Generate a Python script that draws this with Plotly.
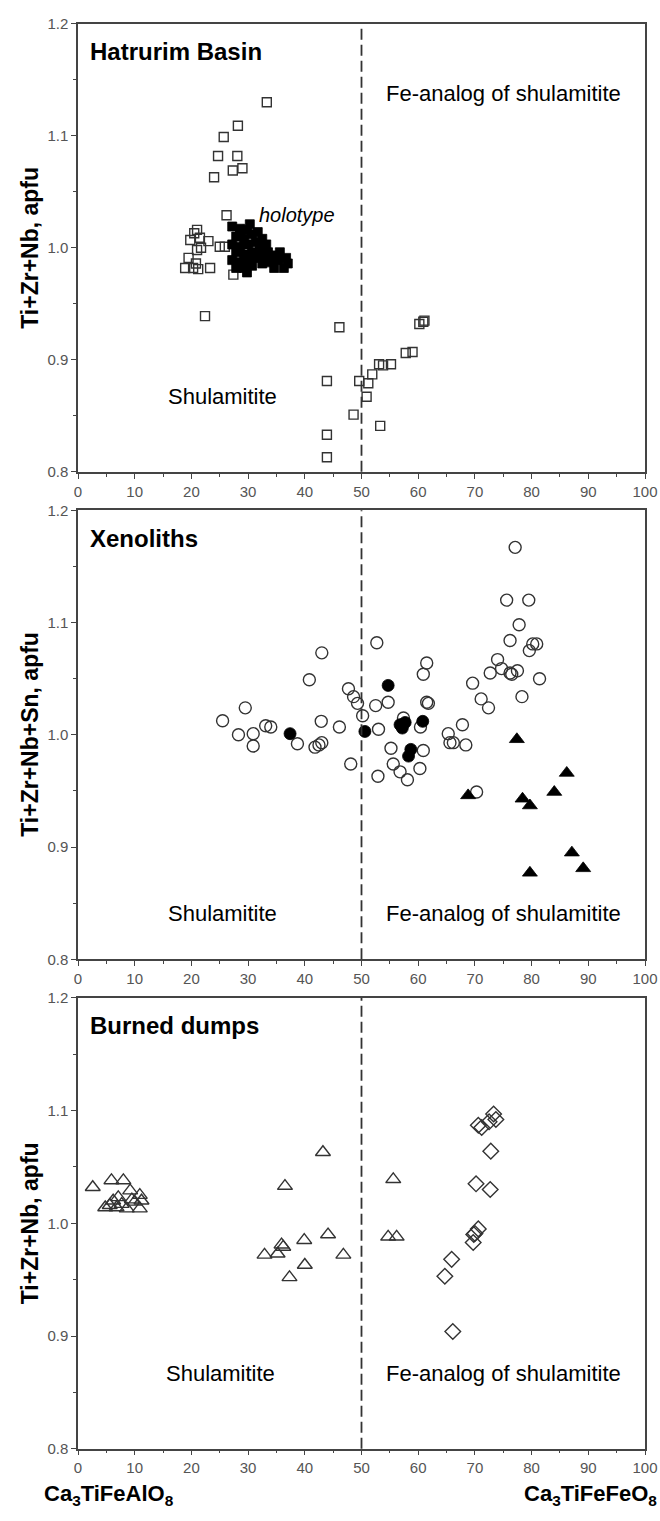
import plotly.graph_objects as go

# ---------------- data ----------------
# Panel 1: Hatrurim Basin
hb_open_x = [33.3, 28.2, 25.7, 24.7, 28.1, 29.0, 27.3, 24.0, 26.2,
             21.0, 19.8, 21.5, 21.7, 23.0, 20.5, 19.5, 18.9, 20.8, 21.2, 23.3, 20.3, 21.0,
             25.0, 25.9, 27.4, 22.4,
             43.9, 43.9, 43.9, 46.1, 49.6, 51.2, 50.9, 48.6, 53.3, 51.9, 53.1, 53.8, 55.2,
             57.8, 59.0, 60.2, 60.9, 61.1]
hb_open_y = [1.130, 1.109, 1.099, 1.082, 1.082, 1.071, 1.069, 1.063, 1.029,
             1.016, 1.007, 1.009, 1.000, 1.006, 1.013, 0.991, 0.982, 0.986, 0.981, 0.982, 0.982, 0.998,
             1.001, 1.001, 0.976, 0.939,
             0.881, 0.833, 0.813, 0.929, 0.881, 0.879, 0.867, 0.851, 0.841, 0.887, 0.896, 0.895, 0.896,
             0.906, 0.907, 0.932, 0.934, 0.935]
hb_holo_x = [27.2, 28.6, 29.8, 27.9, 29.3, 30.7, 31.7, 27.2, 28.6, 30.0, 31.4, 32.5, 33.2,
             27.9, 29.3, 30.7, 32.1, 33.5, 27.2, 28.6, 30.0, 31.4, 32.8, 34.2, 27.9, 29.3,
             30.7, 32.5, 33.9, 35.3, 35.6, 36.7, 37.0, 36.3, 34.9, 28.6, 30.3, 32.1, 29.8, 34.6]
hb_holo_y = [1.019, 1.017, 1.016, 1.010, 1.008, 1.012, 1.014, 1.003, 1.001, 1.003, 1.005, 1.008, 1.003,
             0.996, 0.994, 0.996, 0.998, 0.996, 0.989, 0.987, 0.989, 0.991, 0.991, 0.993, 0.982, 0.982,
             0.984, 0.986, 0.987, 0.989, 0.996, 0.991, 0.986, 0.982, 0.993, 1.014, 1.021, 1.001, 0.978, 0.982]

# Panel 2: Xenoliths
xe_open_x = [25.5, 29.5, 28.3, 30.9, 30.9, 33.1, 34.0, 38.7, 40.8, 43.0, 42.9, 42.5, 41.8, 43.0,
             46.1, 47.7, 48.6, 49.3, 50.2, 48.1, 52.5, 53.0, 54.7, 52.9, 57.4, 60.4, 55.2, 55.6,
             56.8, 58.1, 60.3, 60.9, 60.9, 61.5, 61.5, 52.7, 61.8, 65.3, 65.6, 66.2, 67.8, 68.4,
             69.6, 70.3, 71.1, 72.4, 72.7, 74.0, 74.7, 76.2, 76.5, 77.5, 76.2, 75.6, 79.5, 77.8,
             79.6, 80.2, 80.9, 78.3, 81.4, 77.1]
xe_open_y = [1.0125, 1.024, 1.000, 1.001, 0.990, 1.008, 1.007, 0.992, 1.049, 1.073, 1.012, 0.991, 0.989, 0.993,
             1.007, 1.041, 1.034, 1.028, 1.017, 0.974, 1.026, 1.005, 1.029, 0.963, 1.015, 1.007, 0.988, 0.974,
             0.967, 0.960, 0.970, 0.986, 1.054, 1.064, 1.029, 1.082, 1.028, 1.001, 0.993, 0.993, 1.009, 0.991,
             1.046, 0.949, 1.032, 1.024, 1.055, 1.067, 1.059, 1.055, 1.054, 1.057, 1.084, 1.120, 1.120, 1.098,
             1.075, 1.081, 1.081, 1.034, 1.050, 1.167]
xe_fill_x = [37.4, 50.6, 54.7, 56.8, 57.7, 57.2, 60.8, 58.7, 58.3]
xe_fill_y = [1.001, 1.003, 1.044, 1.009, 1.011, 1.006, 1.012, 0.987, 0.981]
xe_tri_x = [68.8, 77.4, 86.2, 84.0, 78.4, 79.7, 87.1, 89.1, 79.7]
xe_tri_y = [0.946, 0.996, 0.966, 0.949, 0.943, 0.937, 0.895, 0.881, 0.877]

# Panel 3: Burned dumps
bd_tri_x = [2.6, 5.9, 8.0, 4.8, 6.2, 7.1, 7.7, 9.2, 9.5, 10.9, 11.2, 8.6, 10.9, 6.8, 10.0, 5.6,
            36.5, 43.2, 32.9, 35.2, 35.9, 36.2, 37.3, 39.9, 40.0, 44.1, 46.8, 55.6, 54.7, 56.2]
bd_tri_y = [1.032, 1.038, 1.038, 1.014, 1.020, 1.023, 1.017, 1.029, 1.021, 1.025, 1.020, 1.013, 1.013, 1.014, 1.019, 1.016,
            1.033, 1.063, 0.972, 0.973, 0.981, 0.979, 0.952, 0.985, 0.963, 0.990, 0.972, 1.039, 0.988, 0.988]
bd_dia_x = [73.3, 73.7, 72.5, 70.6, 71.2, 72.8, 70.2, 72.7, 70.6, 70.0, 69.7, 69.8, 65.9, 64.7, 66.1]
bd_dia_y = [1.097, 1.092, 1.090, 1.087, 1.085, 1.064, 1.035, 1.030, 0.995, 0.991, 0.983, 0.990, 0.968, 0.953, 0.904]

x_ticks = [0, 10, 20, 30, 40, 50, 60, 70, 80, 90, 100]
y_ticks = [0.8, 0.9, 1.0, 1.1, 1.2]
panel_titles = ["Hatrurim Basin", "Xenoliths", "Burned dumps"]
y_titles = ["Ti+Zr+Nb, apfu", "Ti+Zr+Nb+Sn, apfu", "Ti+Zr+Nb, apfu"]

# ---------------- figure ----------------
W, H = 660, 1521
L, R = 78, 15
PW = W - L - R
FONT = "Arial, 'Liberation Sans', sans-serif"
INK = "#333333"

fig = go.Figure()

def open_marker(symbol, size):
    return dict(symbol=symbol, size=size, color="rgba(0,0,0,0)",
                line=dict(color=INK, width=1.4))

def fill_marker(symbol, size):
    return dict(symbol=symbol, size=size, color="#000000",
                line=dict(color="#000000", width=0.8))

fig.add_trace(go.Scatter(x=hb_open_x, y=hb_open_y, mode="markers", xaxis="x", yaxis="y",
                         marker=open_marker("square", 9)))
fig.add_trace(go.Scatter(x=hb_holo_x, y=hb_holo_y, mode="markers", xaxis="x", yaxis="y",
                         marker=fill_marker("square", 9)))
fig.add_trace(go.Scatter(x=xe_open_x, y=xe_open_y, mode="markers", xaxis="x2", yaxis="y2",
                         marker=open_marker("circle", 12)))
fig.add_trace(go.Scatter(x=xe_fill_x, y=xe_fill_y, mode="markers", xaxis="x2", yaxis="y2",
                         marker=fill_marker("circle", 12)))
fig.add_trace(go.Scatter(x=xe_tri_x, y=xe_tri_y, mode="markers", xaxis="x2", yaxis="y2",
                         marker=fill_marker("triangle-up", 13)))
fig.add_trace(go.Scatter(x=bd_tri_x, y=bd_tri_y, mode="markers", xaxis="x3", yaxis="y3",
                         marker=open_marker("triangle-up", 13)))
fig.add_trace(go.Scatter(x=bd_dia_x, y=bd_dia_y, mode="markers", xaxis="x3", yaxis="y3",
                         marker=open_marker("diamond", 12)))

# panel pixel extents (top, bottom)
panels = [(15, 468), (507, 961), (1000, 1456)]

def pdom(top, bot):
    return [1 - bot / H, 1 - top / H]

axis_common = dict(showline=True, linecolor="#444444", linewidth=1.5, mirror=True,
                   ticks="outside", ticklen=5, tickwidth=1.3, tickcolor="#444444",
                   showgrid=False, zeroline=False,
                   tickfont=dict(family=FONT, size=15, color="#555555"))

layout = dict(width=W, height=H, plot_bgcolor="white", paper_bgcolor="white",
              margin=dict(l=L, r=R, t=0, b=0), showlegend=False,
              font=dict(family=FONT, color="#000000"))

for i, (top, bot) in enumerate(panels):
    sfx = "" if i == 0 else str(i + 1)
    layout["xaxis" + sfx] = dict(axis_common, domain=[0, 1], range=[0, 100],
                                 tickvals=x_ticks, anchor="y" + sfx,
                                 minor=dict(dtick=5, ticklen=3, ticks="outside", tickcolor="#444444"))
    layout["yaxis" + sfx] = dict(axis_common, domain=pdom(top, bot), range=[0.8, 1.2],
                                 tickvals=y_ticks, tickformat=".1f", anchor="x" + sfx,
                                 minor=dict(dtick=0.05, ticklen=3, ticks="outside", tickcolor="#444444"))

fig.update_layout(**layout)

def px_x(px):
    return (px - L) / PW

def px_y(py):
    return 1 - py / H

shapes = []
annotations = []
for i, (top, bot) in enumerate(panels):
    sfx = "" if i == 0 else str(i + 1)
    shapes.append(dict(type="line", xref="x" + sfx, yref="y" + sfx + " domain",
                       x0=50, x1=50, y0=0, y1=1,
                       line=dict(color=INK, width=1.8, dash="11px,5px")))
    annotations.append(dict(text="<b>%s</b>" % panel_titles[i], xref="paper", yref="paper",
                            x=px_x(88), y=px_y(top + 28), xanchor="left", yanchor="middle",
                            showarrow=False, font=dict(family=FONT, size=24, color="#000000")))
    annotations.append(dict(text="<b>%s</b>" % y_titles[i], xref="paper", yref="paper",
                            x=px_x(30), y=px_y((top + bot) / 2), xanchor="center", yanchor="middle",
                            textangle=-90, showarrow=False,
                            font=dict(family=FONT, size=23, color="#000000")))

region_labels = [
    ("Fe-analog of shulamitite", 503, 85),
    ("Shulamitite", 222, 392),
    ("Shulamitite", 222, 915),
    ("Fe-analog of shulamitite", 503, 915),
    ("Shulamitite", 220, 1380),
    ("Fe-analog of shulamitite", 503, 1380),
]
for txt, px, py in region_labels:
    annotations.append(dict(text=txt, xref="paper", yref="paper",
                            x=px_x(px), y=px_y(py), xanchor="center", yanchor="middle",
                            showarrow=False, font=dict(family=FONT, size=22, color="#000000")))

annotations.append(dict(text="<i>holotype</i>", xref="x", yref="y", x=38.7, y=1.029,
                        xanchor="center", yanchor="middle", showarrow=False,
                        font=dict(family=FONT, size=20, color="#000000")))

annotations.append(dict(text="<b>Ca<sub>3</sub>TiFeAlO<sub>8</sub></b>", xref="paper", yref="paper",
                        x=px_x(42), y=px_y(1503), xanchor="left", yanchor="middle",
                        showarrow=False, font=dict(family=FONT, size=22, color="#000000")))
annotations.append(dict(text="<b>Ca<sub>3</sub>TiFeFeO<sub>8</sub></b>", xref="paper", yref="paper",
                        x=px_x(659), y=px_y(1503), xanchor="right", yanchor="middle",
                        showarrow=False, font=dict(family=FONT, size=22, color="#000000")))

fig.update_layout(shapes=shapes, annotations=annotations)
fig.write_html("out.html", config={"displayModeBar": False},
               post_script="document.body.style.margin='0';document.body.style.overflow='hidden';")
